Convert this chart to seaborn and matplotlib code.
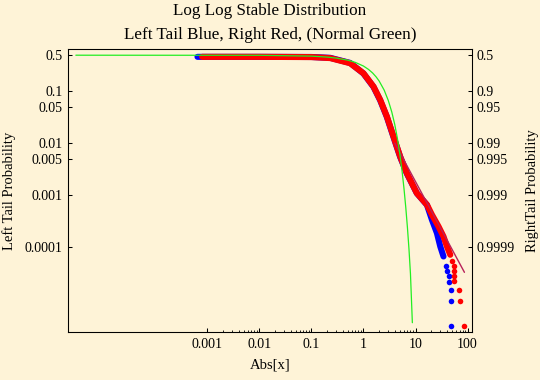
import matplotlib
matplotlib.use("Agg")
import matplotlib.pyplot as plt
import seaborn as sns
import pandas as pd
from matplotlib.ticker import FixedLocator, FixedFormatter, NullLocator

# ---------------- data ----------------
left_band_x = [0.00065, 0.01, 0.1, 0.23, 0.555, 1.0, 1.56, 2.1, 2.82, 3.78,
               5.08, 6.83, 10.6, 16.6, 20.7, 25.8, 29.9, 34.5]
left_band_p = [0.465, 0.465, 0.462, 0.445, 0.355, 0.222, 0.122, 0.067, 0.032,
               0.0131, 0.0054, 0.00258, 0.00108, 0.00064, 0.00033, 0.000183,
               0.000101, 0.0000647]
left_tail_x = [38.4, 40.2, 43.1, 44.5, 48.6, 48.6, 48.6]
left_tail_p = [4.15e-5, 3.32e-5, 2.66e-5, 2.1e-5, 1.47e-5, 9.0e-6, 2.97e-6]

right_band_x = [0.0008, 0.01, 0.1, 0.23, 0.555, 1.0, 1.56, 2.1, 2.82, 3.78,
                5.08, 6.83, 10.6, 16.6, 20.7, 27.7, 34.5, 40.2, 46.5]
right_band_p = [0.465, 0.465, 0.46, 0.44, 0.35, 0.224, 0.124, 0.0685, 0.0327,
                0.0134, 0.0055, 0.00263, 0.00108, 0.000645, 0.000413, 0.000245,
                0.000157, 0.000101, 0.0000698]
right_tail_x = [50.1, 53.8, 53.8, 53.8, 53.8, 67.1, 72.4, 83.8]
right_tail_p = [5.18e-5, 4.15e-5, 3.32e-5, 2.66e-5, 2.13e-5, 1.47e-5, 9.0e-6, 2.97e-6]

fit_x = [4.0, 87.0]
fit_p = [0.01, 3.2e-5]

normal_x = [3e-6, 0.01, 0.1, 0.2, 0.3, 0.5, 0.7, 1.0, 1.25, 1.5, 1.75, 2.0, 2.5,
            3.0, 3.5, 4.0, 4.5, 5.0, 5.5, 6.0, 6.5, 7.0, 7.5, 8.0, 8.7]
normal_p = [0.5, 0.498, 0.480, 0.460, 0.440, 0.401, 0.363, 0.309, 0.266, 0.227,
            0.191, 0.159, 0.106, 0.0668, 0.0401, 0.0228, 0.0122, 0.00621,
            0.00298, 0.00135, 0.000577, 0.000233, 8.84e-5, 3.0e-5, 3.4e-6]

x_tick_vals = [0.001, 0.01, 0.1, 1, 10, 100]
x_tick_labels = ["0.001", "0.01", "0.1", "1", "10", "100"]
y_tick_vals = [0.5, 0.1, 0.05, 0.01, 0.005, 0.001, 0.0001]
y_left_labels = ["0.5", "0.1", "0.05", "0.01", "0.005", "0.001", "0.0001"]
y_right_labels = ["0.5", "0.9", "0.95", "0.99", "0.995", "0.999", "0.9999"]

title_line1 = "Log Log Stable Distribution"
title_line2 = "Left Tail Blue, Right Red, (Normal Green)"

# ---------------- style ----------------
BG = "#FEF3D7"
sns.set_style("ticks")
plt.rcParams["font.family"] = ["Liberation Serif", "DejaVu Serif"]
plt.rcParams["axes.linewidth"] = 0.75
for key in ("text.color", "axes.labelcolor", "xtick.color", "ytick.color",
            "axes.edgecolor"):
    plt.rcParams[key] = "black"

fig = plt.figure(figsize=(5.4, 3.8), dpi=100, facecolor=BG)
ax = fig.add_axes([68 / 540, 1 - 332 / 380, 404 / 540, 283 / 380])
ax.set_facecolor(BG)
ax.set_xscale("log")
ax.set_yscale("log")

band_lw = 4.4
sns.lineplot(x=left_band_x, y=left_band_p, sort=False, estimator=None, ax=ax,
             color="#0000FF", lw=band_lw, solid_capstyle="round")
sns.scatterplot(x=left_tail_x, y=left_tail_p, ax=ax, color="#0000FF", s=16,
                linewidth=0)
sns.lineplot(x=right_band_x, y=right_band_p, sort=False, estimator=None, ax=ax,
             color="#FF0000", lw=band_lw, solid_capstyle="round")
sns.scatterplot(x=right_tail_x, y=right_tail_p, ax=ax, color="#FF0000", s=16,
                linewidth=0)
sns.lineplot(x=fit_x, y=fit_p, sort=False, estimator=None, ax=ax,
             color="#B8215A", lw=1.0)
sns.lineplot(x=normal_x, y=normal_p, sort=False, estimator=None, ax=ax,
             color="#22EE22", lw=0.9)

xlim = (2.12e-6, 121.6)
ylim = (2.25e-6, 0.659)
ax.set_xlim(*xlim)
ax.set_ylim(*ylim)

minor_x = [k * 10.0 ** e for e in range(-3, 2) for k in range(2, 10)]
ax.xaxis.set_major_locator(FixedLocator(x_tick_vals))
ax.xaxis.set_major_formatter(FixedFormatter(x_tick_labels))
ax.xaxis.set_minor_locator(FixedLocator(minor_x))
ax.yaxis.set_major_locator(FixedLocator(y_tick_vals))
ax.yaxis.set_major_formatter(FixedFormatter(y_left_labels))
ax.yaxis.set_minor_locator(NullLocator())

ax.tick_params(axis="both", which="major", direction="in", length=3,
               width=0.75, labelsize=10, pad=4, color="black",
               labelcolor="black")
ax.tick_params(axis="x", which="minor", direction="in", length=1.7,
               width=0.6, color="black")
ax.tick_params(top=False, right=False, which="both")

ax2 = ax.twinx()
ax2.set_yscale("log")
ax2.set_ylim(*ylim)
ax2.yaxis.set_major_locator(FixedLocator(y_tick_vals))
ax2.yaxis.set_major_formatter(FixedFormatter(y_right_labels))
ax2.yaxis.set_minor_locator(NullLocator())
ax2.tick_params(axis="y", which="major", direction="in", length=3, width=0.75,
                labelsize=10, pad=3, color="black", labelcolor="black")

for a in (ax, ax2):
    for s in a.spines.values():
        s.set_visible(True)
        s.set_color("black")
        s.set_linewidth(0.75)

ax.set_xlabel("Abs[x]", fontsize=10.5, labelpad=6, color="black")
ax.set_ylabel("Left Tail Probability", fontsize=10.5, labelpad=6, color="black")
ax2.set_ylabel("RightTail Probability", fontsize=10.5, labelpad=8, color="black")

fig.text(0.5, 1 - 11 / 380, title_line1, ha="center", va="center",
         fontsize=12.3, color="black")
fig.text(0.5, 1 - 35 / 380, title_line2, ha="center", va="center",
         fontsize=12.3, color="black")

fig.savefig("out.png", dpi=100, facecolor=BG)
